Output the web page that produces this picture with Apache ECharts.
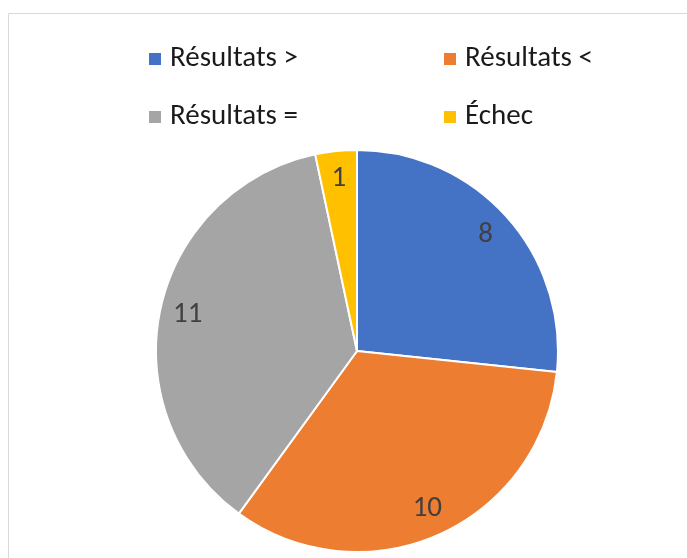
<!DOCTYPE html>
<html>
<head>
<meta charset="utf-8">
<script src="https://cdn.jsdelivr.net/npm/echarts@6/dist/echarts.min.js"></script>
<style>
  html, body { margin: 0; padding: 0; background: #fff; }
  #chart { width: 687px; height: 558px; }
</style>
</head>
<body>
<div id="chart"></div>
<script>
var categories = ['Résultats >', 'Résultats <', 'Résultats =', 'Échec']
var values = [8, 10, 11, 1]
var colors = ['#4472C4', '#ED7D31', '#A5A5A5', '#FFC000']

var fontFamily = 'Carlito, Lato, "Open Sans", sans-serif'

var pieData = categories.map(function(name, i) {
  return { name: name, value: values[i], itemStyle: { color: colors[i] }}
})

// Excel puts the value labels near the rim, so a hidden ring carries them
var labelData = categories.map(function(name, i) {
  return { name: name, value: values[i] }
})

// one legend per item, laid out 2 x 2
var legendPos = [[147, 44], [442, 44], [147, 102], [442, 102]]

var legends = categories.map(function(name, i) {
  return {
    data: [name],
    left: legendPos[i][0],
    top: legendPos[i][1],
    padding: 0,
    itemWidth: 14,
    itemHeight: 14,
    icon: 'rect',
    selectedMode: false,
    textStyle: {
      fontFamily: fontFamily,
      fontSize: 29,
      lineHeight: 30,
      color: '#1a1a1a',
      padding: [0, 0, 0, 3]
    }
  }
})

var chart = echarts.init(document.getElementById('chart'))
chart.setOption({
  animation: false,
  color: colors,
  graphic: [{
    type: 'rect',
    shape: { x: 8.5, y: 13.5, width: 720, height: 600 },
    style: { fill: 'none', stroke: '#d9d9d9', lineWidth: 1 },
    silent: true
  }],
  legend: legends,
  series: [
    {
      name: 'pie',
      type: 'pie',
      center: [357, 351],
      radius: [0, 201],
      startAngle: 90,
      clockwise: true,
      silent: true,
      itemStyle: { borderColor: '#fff', borderWidth: 2 },
      label: { show: false },
      labelLine: { show: false },
      data: pieData
    },
    {
      name: 'labels',
      type: 'pie',
      center: [357, 351],
      radius: [140, 200],
      startAngle: 90,
      clockwise: true,
      silent: true,
      itemStyle: { color: 'rgba(0,0,0,0)' },
      label: {
        show: true,
        position: 'inside',
        formatter: '{c}',
        fontFamily: fontFamily,
        fontSize: 29,
        color: '#404040'
      },
      labelLine: { show: false },
      data: labelData
    }
  ]
})
</script>
</body>
</html>
